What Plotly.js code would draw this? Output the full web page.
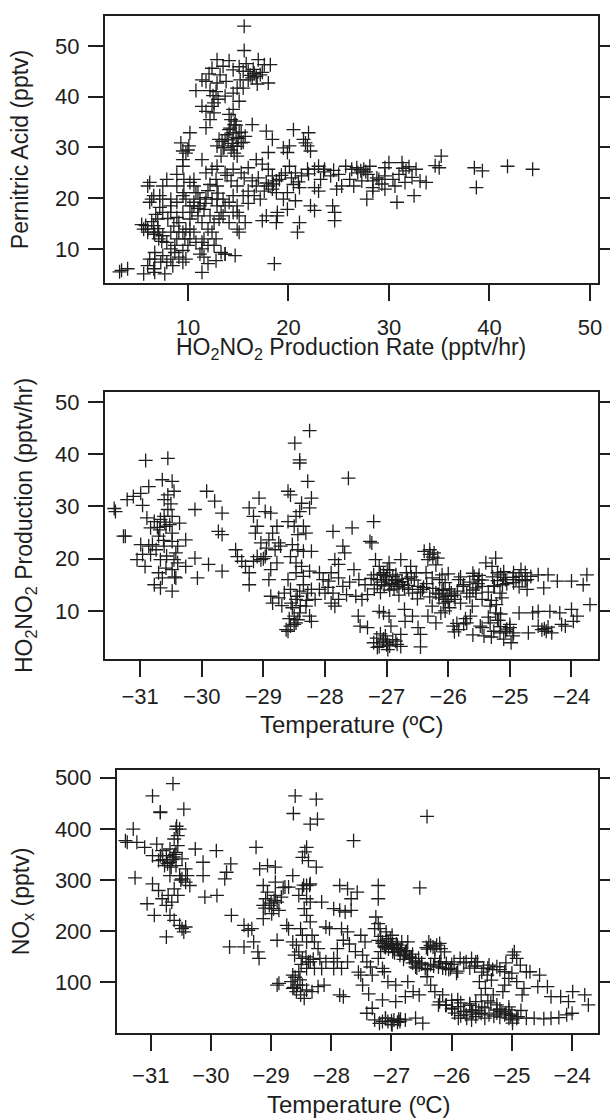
<!DOCTYPE html>
<html>
<head>
<meta charset="utf-8">
<script src="https://cdn.plot.ly/plotly-3.0.1.min.js"></script>
<style>html,body{margin:0;padding:0;background:#fff;}#chart{width:610px;height:1118px;}</style>
</head>
<body>
<div id="chart"></div>
<script>
// ---------- Panel 1: Pernitric acid vs HO2NO2 production rate ----------
const p1Rate = [
15.6,15.6,12.9,14.1,13.5,12.4,14.5,15.1,15.5,16.0,
16.6,17.0,17.6,18.2,16.4,16.0,16.8,17.2,18.0,15.2,
14.9,15.5,15.1,14.5,13.7,12.9,11.8,11.4,10.8,12.2,
12.8,12.6,12.4,11.4,11.8,12.6,12.2,11.8,14.5,14.1,
16.2,16.5,17.4,13.2,12.1,13.8,16.9,15.8,12.5,13.0,
14.5,14.2,14.8,14.0,15.0,14.4,13.6,15.3,14.7,13.9,
14.9,13.4,15.5,14.3,14.6,16.4,15.1,13.7,13.5,13.3,
14.5,14.9,14.3,15.3,15.7,14.1,14.6,12.9,13.1,14.8,
17.8,18.4,18.0,20.5,19.9,19.5,20.1,21.5,21.7,21.9,
22.2,22.0,10.2,9.3,10.1,9.5,9.8,9.5,9.5,10.0,
12.9,13.7,14.5,15.3,16.0,16.8,17.4,18.0,18.4,18.8,
18.0,18.4,18.8,17.6,16.8,16.4,16.0,15.5,16.6,17.2,
19.1,19.7,20.1,20.7,21.3,21.9,22.6,23.0,23.6,23.2,
22.6,23.0,24.2,25.0,25.3,24.8,25.7,26.3,26.9,27.5,
27.9,27.3,26.5,26.1,28.4,29.0,29.6,30.4,31.0,31.7,
32.3,33.1,31.6,30.6,28.4,30.0,28.1,20.5,21.1,19.9,
19.5,20.7,17.0,17.8,18.5,19.3,20.3,21.0,22.0,23.5,
24.5,26.8,27.2,27.7,28.8,29.3,32.0,31.4,35.0,34.6,
35.2,38.5,39.3,38.7,41.8,44.3,30.8,32.5,33.7,32.7,
31.3,29.6,29.6,28.4,27.8,24.6,24.6,24.4,22.2,22.6,
21.1,20.9,19.9,18.9,18.8,18.9,17.8,17.4,15.7,15.1,
14.9,18.6,11.4,13.7,14.7,12.8,12.0,11.6,
11.8,12.4,12.8,12.2,14.3,14.9,14.5,14.1,14.9,14.5,
12.9,12.9,13.3,13.1,12.6,14.1,14.9,15.1,11.4,10.8,
11.2,10.6,10.4,11.0,10.2,11.4,11.2,12.0,11.4,12.6,
13.3,13.7,10.2,10.6,11.0,10.6,11.2,11.8,11.6,12.2,
11.4,12.0,12.4,12.8,11.6,10.6,13.5,13.7,13.5,12.9,
12.4,13.9,15.6,16.0,13.0,12.0,11.0,11.7,
3.4,4.0,5.6,6.6,7.7,6.7,7.3,6.2,8.3,9.1,
9.8,8.7,8.9,9.5,9.8,10.2,8.9,8.3,9.1,6.0,
6.6,7.1,5.8,7.0,6.2,6.4,7.2,6.2,7.9,8.9,
8.3,7.5,9.6,9.8,5.6,6.0,6.6,6.7,7.5,8.3,
7.1,7.9,8.7,8.3,6.7,7.5,7.9,8.5,9.5,6.0,
6.7,6.0,6.6,7.2,7.5,8.3,8.9,9.5,9.5,10.2,
8.9,9.6,10.6,7.5,9.1,9.7,10.2,10.8,10.0,9.5,
3.2,5.4,6.4,7.0,8.0,8.6,6.8,7.4
];
const p1Acid = [
53.9,49.1,47.3,47.1,46.0,45.6,45.3,45.9,45.0,45.0,
44.6,47.3,46.3,46.3,43.7,43.3,44.0,44.3,42.7,43.3,
41.7,41.7,39.1,40.7,40.1,42.7,43.0,43.3,41.2,41.2,
41.0,38.8,38.1,38.1,37.1,36.8,35.5,33.9,37.5,36.5,
44.2,45.4,44.8,44.3,44.5,43.0,42.5,46.5,40.2,39.5,
32.9,33.8,34.4,31.5,31.8,30.8,30.0,33.0,35.2,32.5,
30.2,31.2,31.0,29.5,28.9,34.5,32.9,31.6,29.9,28.3,
30.3,28.3,35.5,30.9,32.2,33.5,34.5,30.3,31.6,32.0,
33.2,31.6,29.0,33.5,29.0,29.9,30.3,31.6,30.9,30.3,
29.3,32.9,32.9,30.9,30.3,29.3,28.9,27.6,26.3,29.5,
26.3,25.0,25.7,25.0,26.0,27.6,26.7,25.7,24.4,23.4,
22.4,21.8,21.1,21.4,22.4,23.4,21.4,20.5,20.5,19.8,
23.7,25.0,26.3,25.0,24.4,25.7,25.7,26.3,25.7,23.7,
22.1,21.4,24.4,24.7,22.4,21.8,26.3,25.7,25.0,25.7,
24.7,23.4,22.4,23.7,23.4,23.7,24.4,23.7,24.7,25.4,
24.1,23.4,23.1,22.4,22.1,27.0,26.3,22.7,22.1,21.1,
19.8,19.5,24.0,23.0,22.8,24.5,24.0,23.2,24.8,25.2,
25.5,26.0,25.4,25.2,24.0,22.8,26.2,25.9,26.0,26.4,
28.3,26.0,25.4,22.1,26.3,25.7,19.2,20.5,23.1,25.7,
27.0,26.0,21.8,21.4,19.8,17.2,15.6,18.5,18.5,17.6,
15.2,13.3,17.8,17.2,15.2,16.5,16.5,15.6,15.2,13.3,
17.2,7.1,5.4,9.0,8.7,7.7,7.1,8.4,
25.0,25.7,23.7,22.7,23.4,22.4,20.5,19.2,18.5,17.2,
19.8,18.5,17.2,15.9,15.2,15.2,13.9,16.5,27.6,21.1,
19.8,18.5,17.2,16.5,15.9,10.0,9.0,10.7,11.3,10.7,
9.3,9.0,23.1,22.4,21.1,19.2,18.5,20.1,17.8,16.5,
15.2,13.9,13.3,12.0,12.0,13.3,16.5,18.5,19.8,22.4,
19.8,24.5,24.0,19.0,21.0,21.5,18.0,19.0,
5.8,6.1,5.1,6.1,5.1,8.0,7.4,8.0,8.0,8.4,
8.0,10.7,12.0,13.3,13.9,13.9,16.2,17.2,15.2,13.9,
13.3,13.3,14.6,15.9,19.2,19.8,20.5,23.1,23.7,24.7,
18.5,19.8,21.1,19.8,13.9,13.3,14.6,12.9,12.6,13.3,
12.0,11.3,9.3,10.0,9.3,8.7,7.4,6.7,7.4,6.7,
5.4,22.4,20.5,18.2,17.2,19.8,19.2,20.5,17.2,18.5,
22.4,23.7,23.7,22.4,13.3,12.0,12.0,11.3,10.7,9.7,
5.5,14.8,15.4,14.0,16.0,14.5,16.8,11.5
];

// ---------- Panel 2: HO2NO2 production vs temperature ----------
const p2Temp = [
-31.42,-31.40,-31.27,-31.24,-31.21,-31.11,-30.99,-30.96,-30.86,-30.91,
-30.55,-30.64,-30.48,-30.89,-30.83,-30.77,-30.99,-30.96,-31.05,-30.92,
-30.77,-30.67,-30.48,-30.42,-30.39,-30.26,-30.26,-30.36,-30.55,-30.61,
-30.55,-30.45,-30.67,-30.61,-30.48,-30.58,-30.70,-30.80,-30.74,-30.61,
-30.48,-30.39,-30.67,-30.58,-30.48,-30.42,-30.86,-30.83,-30.70,-30.64,
-30.48,-30.45,-30.60,-30.52,-30.72,-30.50,-30.62,-30.44,-30.68,-30.57,
-30.11,-30.11,-30.07,-29.92,-29.79,-29.67,-29.73,-29.67,-29.89,-29.67,
-29.45,-29.42,-29.35,-29.29,-29.23,-29.23,-29.07,-29.23,-29.16,-28.97,
-28.88,-29.10,-29.13,-29.04,-28.91,-28.85,-28.78,-28.75,-28.81,-29.10,
-29.04,-28.97,-29.16,-28.88,-28.91,-28.78,-28.72,-28.88,-28.85,-28.75,
-28.66,-28.63,-28.56,-28.50,-28.47,-28.60,-28.44,-28.95,-29.00,-28.70,
-28.60,-28.56,-28.49,-28.41,-28.41,-28.25,-28.28,-28.22,-28.38,-28.25,
-28.41,-28.47,-28.60,-28.50,-28.35,-28.31,-28.44,-28.53,-28.44,-28.35,
-28.22,-28.56,-28.47,-28.38,-28.47,-28.35,-28.25,-28.60,-28.56,-28.41,
-28.28,-28.22,-28.47,-28.53,-28.31,-28.41,-28.25,-28.22,-28.16,-28.09,
-28.03,-28.00,-28.09,-28.55,-28.45,-28.35,-28.50,-28.40,-28.30,-28.58,
-27.87,-27.56,-27.62,-27.71,-27.68,-27.84,-27.78,-27.90,-27.94,-27.78,
-27.71,-27.87,-27.78,-27.84,-27.90,-27.65,-27.53,-27.50,-27.40,-27.31,
-27.46,-27.43,-27.31,-27.24,-27.21,-27.27,-27.60,-27.95,-27.35,-27.45,
-27.18,-27.12,-27.05,-26.99,-26.96,-26.90,-26.83,-27.02,-27.15,-27.21,
-26.96,-26.83,-26.71,-26.77,-26.68,-26.64,-26.58,-26.49,-26.42,-26.52,
-26.61,-27.12,-27.05,-26.96,-26.93,-27.02,-26.90,-27.21,-27.12,-26.99,
-26.83,-26.77,-26.77,-26.71,-26.58,-26.49,-26.45,-26.45,-26.33,-26.20,
-26.26,-27.08,-27.00,-26.92,-26.86,-27.10,-27.04,-26.95,-26.88,-26.80,
-26.74,-26.66,-27.06,-27.16,-27.00,-26.70,
-26.39,-26.30,-26.23,-26.17,-26.33,-26.36,-26.26,-26.14,-26.08,-26.20,
-26.02,-25.95,-26.08,-25.98,-25.89,-25.83,-25.76,-25.70,-25.92,-25.83,
-25.70,-25.64,-25.61,-25.58,-25.51,-25.45,-25.55,-25.45,-25.48,-25.42,
-26.30,-26.25,-26.10,-26.05,-26.00,-25.90,-26.40,-26.15,-25.98,-26.05,
-25.80,-25.65,-25.60,-25.52,-25.72,-25.86,-26.12,-26.20,
-25.39,-25.23,-25.29,-25.20,-25.26,-25.16,-25.32,-25.23,-25.32,-25.26,
-25.16,-25.07,-24.94,-24.98,-25.07,-25.13,-24.94,-24.85,-24.75,-24.66,
-24.82,-24.72,-24.94,-24.72,-25.20,-25.10,-25.30,-25.18,-25.05,-24.90,
-25.22,-25.12,-24.80,-25.00,-25.28,-25.15,
-24.54,-24.38,-24.45,-24.23,-24.00,-23.81,-23.75,-23.70,-24.85,-24.63,
-24.54,-24.35,-24.19,-24.00,-24.16,-23.97,-23.91,-24.41,-24.32,-24.48,
-24.54,-24.70,-24.10,-24.44,-24.38,
-27.25,-27.15,-27.05,-26.95,-26.85,-26.75,-26.65,-26.55,-26.45,-26.35,
-26.25,-26.15,-26.05,-25.95,-25.85,-25.75,-25.65,-25.55,-25.45,-25.35,
-25.25,-25.15,-25.05,-24.95,-24.85,-24.75,-27.10,-26.60,-26.10,-25.60,
-25.10,-26.30,-26.00,-25.50,-26.80,-27.20,-26.50,-25.80,
-27.15,-27.05,-26.95,-26.85,-27.10,-26.98,-25.90,-25.75,-25.60,-25.45,
-25.30,-25.20,-25.10,-25.00,-24.95,-25.35,-25.15
];
const p2Prod = [
29.6,29.0,24.3,24.3,31.3,31.9,32.5,30.2,33.8,38.8,
39.2,35.1,34.8,27.8,25.9,27.1,22.7,20.8,19.8,18.5,
15.0,14.4,13.8,16.3,19.2,18.5,23.6,26.8,29.4,31.3,
32.2,32.9,27.5,28.1,28.1,26.2,24.3,22.7,21.7,22.4,
23.3,22.4,19.8,18.2,17.9,21.1,22.4,20.8,17.3,16.3,
24.9,19.8,27.0,26.5,26.0,30.5,23.5,16.5,25.5,20.5,
29.4,20.1,16.3,32.9,31.0,28.7,25.2,24.6,18.9,17.6,
21.7,20.4,19.5,18.5,15.0,17.3,31.6,29.7,28.1,29.0,
28.7,26.2,24.9,23.0,23.6,24.9,26.2,23.0,21.7,20.4,
19.8,20.4,19.5,17.9,16.0,19.2,22.4,12.8,11.5,12.5,
13.4,6.4,7.1,7.4,7.7,6.1,8.3,22.0,20.0,11.0,
32.9,32.2,42.1,38.9,38.3,44.5,34.8,31.6,30.6,29.7,
29.0,28.1,27.1,26.2,26.2,24.9,24.6,22.7,21.7,21.4,
21.4,20.4,19.2,18.5,17.3,16.6,17.6,16.0,14.1,13.8,
13.4,14.1,12.2,10.6,10.9,9.6,9.0,8.0,12.2,17.3,
16.0,13.4,14.1,11.5,12.8,15.0,9.0,11.0,12.0,8.5,
25.2,25.9,35.4,22.4,21.1,19.8,18.9,17.3,15.7,16.3,
14.7,13.4,12.2,10.9,11.5,13.1,17.9,12.8,12.2,13.1,
9.0,7.1,6.8,23.0,27.1,23.3,15.5,14.5,15.0,16.0,
19.8,18.5,17.3,17.9,19.2,16.6,16.0,16.0,16.0,16.9,
15.0,14.7,14.4,19.8,17.3,14.1,13.4,14.7,14.1,17.3,
18.5,9.9,9.6,9.0,7.1,5.2,4.5,3.9,3.2,3.9,
3.6,3.2,5.5,10.3,9.0,6.8,5.5,3.1,9.0,7.7,
10.9,15.5,16.5,15.2,15.8,17.0,14.8,17.8,14.2,15.4,
15.0,16.2,4.2,4.8,3.5,8.0,
21.4,21.7,21.1,20.1,19.8,17.3,16.3,16.0,14.1,13.4,
12.8,13.4,11.5,10.6,12.2,16.0,14.7,13.4,7.1,6.4,
7.7,9.0,10.9,16.6,16.0,14.7,13.4,12.2,7.1,5.2,
20.8,20.3,13.9,12.2,11.8,13.0,14.5,12.5,14.2,10.0,
11.5,15.5,14.0,15.2,8.5,7.6,9.6,18.8,
19.2,20.1,18.5,17.3,14.7,13.4,10.9,9.6,7.7,6.1,
5.8,6.1,5.8,3.9,16.0,12.5,17.3,16.6,17.3,16.6,
17.9,16.0,15.4,14.1,15.8,16.4,12.0,8.2,6.5,16.0,
11.2,15.0,15.8,6.8,16.5,7.0,
16.9,16.9,14.4,15.7,15.7,15.0,16.9,11.2,9.6,9.6,
9.9,9.9,9.6,10.3,7.4,8.0,9.0,6.1,5.8,6.4,
7.1,5.8,7.1,6.6,6.9,
16.2,15.0,16.8,14.0,16.9,15.6,14.9,15.9,13.6,15.2,
14.3,13.2,15.4,12.9,13.8,15.0,12.7,14.4,15.9,13.6,
14.8,16.9,15.2,16.4,14.6,15.8,13.5,16.5,16.9,17.2,
17.5,12.7,17.1,16.8,13.0,14.2,12.3,16.5,
3.0,4.6,3.3,4.2,5.6,2.6,6.0,7.5,5.4,6.8,
5.0,8.2,4.6,7.4,5.2,8.8,9.4
];

// ---------- Panel 3: NOx vs temperature ----------
const p3Temp = [
-31.42,-31.39,-31.29,-31.23,-31.10,-30.97,-31.26,-30.90,-30.84,-30.97,
-30.84,-30.63,-30.45,-31.06,-30.94,-30.74,-30.87,-30.81,-30.74,-30.68,
-30.61,-30.52,-30.48,-30.42,-30.45,-30.58,-30.55,-30.61,-30.68,-30.58,
-30.48,-30.42,-30.39,-30.42,-30.35,-30.48,-30.61,-30.55,-30.65,-30.74,
-30.68,-30.77,-30.58,-30.52,-30.87,-30.97,-30.81,-30.55,-30.68,-30.52,
-30.71,-30.64,-30.60,-30.72,-30.80,-30.66,-30.50,-30.84,-30.57,-30.62,
-30.26,-30.13,-30.13,-30.10,-29.90,-29.91,-29.77,-29.67,-29.74,-29.66,
-29.69,-29.45,-29.45,-29.38,-29.32,-29.29,-29.22,-29.20,-29.25,
-29.19,-29.06,-28.93,-29.13,-29.06,-29.09,-29.13,-29.03,-28.96,-28.90,
-28.87,-28.99,-29.13,-28.93,-28.77,-28.71,-28.64,-28.93,-28.83,-28.90,
-28.90,-28.87,-28.74,-28.71,-28.64,-28.61,-29.00,-29.10,-28.95,-28.80,
-28.60,-28.63,-28.25,-28.23,-28.35,-28.41,-28.48,-28.38,-28.25,-28.41,
-28.35,-28.48,-28.54,-28.41,-28.35,-28.45,-28.41,-28.35,-28.51,-28.48,
-28.41,-28.32,-28.28,-28.22,-28.58,-28.54,-28.48,-28.35,-28.28,-28.41,
-28.54,-28.64,-28.67,-28.64,-28.58,-28.51,-28.45,-28.48,-28.41,-28.32,
-28.22,-28.12,-28.19,-28.09,-28.16,-28.03,-28.09,-28.16,-27.96,-28.44,
-28.60,-28.56,-28.50,-28.42,-28.38,-28.30,-28.62,-28.52,-28.46,-28.36,
-27.86,-27.77,-27.67,-27.86,-27.73,-27.67,-27.57,-27.63,-27.83,-27.73,
-27.80,-27.90,-27.96,-27.90,-27.83,-27.73,-27.96,-27.86,-27.80,-27.51,
-27.44,-27.48,-27.41,-27.51,-27.48,-27.38,-27.28,-27.22,-27.22,-27.26,
-27.22,-27.60,-27.35,-27.70,-27.55,
-27.15,-27.09,-27.02,-26.96,-26.90,-26.86,-26.77,-26.67,-26.60,-26.54,
-26.44,-27.19,-27.09,-26.99,-26.83,-26.73,-27.22,-27.15,-27.12,-27.32,
-27.06,-26.93,-26.73,-26.64,-26.54,-26.77,-26.93,-27.15,-27.32,-27.41,
-27.28,-27.15,-27.06,-26.96,-26.86,-26.77,-26.60,-26.48,-26.99,-26.53,
-26.41,-27.12,-27.05,-26.98,-26.92,-26.84,-26.70,-27.18,-27.00,-26.88,
-27.10,-26.80,-26.65,-26.58,
-26.38,-26.31,-26.25,-26.18,-26.12,-26.28,-26.18,-26.09,-26.02,-25.96,
-25.86,-25.76,-25.67,-25.57,-25.47,-25.38,-25.25,-25.12,-24.99,-24.96,
-24.92,-24.86,-24.76,-24.70,-24.54,-24.57,-24.41,-24.35,-24.19,-23.99,
-23.79,-23.73,-26.22,-26.15,-26.05,-26.35,-26.40,-25.92,-25.62,-25.32,
-26.41,-26.35,-26.28,-26.15,-26.22,-26.09,-25.99,-25.89,-25.80,-25.89,
-25.76,-25.67,-25.60,-25.51,-25.44,-25.54,-25.41,-25.34,-25.31,-25.25,
-25.18,-25.12,-25.05,-24.99,-24.92,-25.05,-25.15,-25.12,-25.05,-25.38,
-25.51,-25.60,-25.67,-24.99,-24.76,-24.63,-24.47,-24.35,-24.22,-24.09,
-24.00,-24.06,-24.80,-24.92,-24.83,-25.95,-25.70,-25.45,-25.25,-25.85,
-25.55,-25.35,-25.20,-25.02,-26.00,-25.75,
-27.22,-27.15,-27.10,-27.05,-27.00,-26.95,-26.90,-26.85,-26.80,-26.75,
-26.70,-26.65,-26.60,-26.55,-26.50,-27.18,-27.08,-26.98,-26.88,-26.78,
-26.60,-26.50,-26.40,-26.30,-26.20,-26.10,-26.00,-25.90,-25.80,-25.70,
-26.35,-26.28,-26.20,-26.42,-25.60,-25.40,-25.20,-25.00,-25.50,-25.10,
-26.20,-26.10,-26.00,-25.90,-25.80,-25.70,-25.60,-25.50,-25.40,-25.30,
-25.20,-25.10,-25.00,-24.90,-25.85,-25.65,-25.45,-25.25,-25.05,-24.85,
-27.20,-27.10,-27.00,-26.90,-26.85
];
const p3NOx = [
376.8,373.6,399.5,373.6,363.9,292.5,304.2,370.3,347.6,464.3,
431.9,488.3,438.4,253.6,230.9,188.8,279.5,263.4,250.4,230.9,
221.2,211.5,205.0,208.2,198.5,399.5,386.6,380.1,360.6,354.1,
341.2,321.7,308.7,295.8,289.3,302.3,282.8,269.8,256.9,347.6,
334.7,328.2,328.2,399.5,337.9,347.6,357.4,367.1,308.7,308.7,
269.8,340.0,350.0,332.0,340.0,325.0,300.0,433.0,405.0,345.0,
360.6,334.7,308.7,266.6,269.8,357.4,302.3,331.4,315.2,230.9,
169.3,169.3,211.5,201.8,205.0,179.1,159.6,146.7,363.9,
321.7,328.2,325.0,289.3,276.3,263.4,250.4,250.4,243.9,256.9,
240.7,234.2,224.5,295.8,286.1,286.1,308.7,269.8,266.6,182.3,
94.8,98.1,211.5,205.0,179.1,153.1,255.0,245.0,260.0,285.0,
464.3,429.9,457.9,418.9,409.2,363.9,344.4,337.9,325.0,289.3,
292.5,282.8,269.8,263.4,256.9,243.9,230.9,218.0,205.0,192.1,
179.1,192.1,179.1,166.1,172.6,159.6,146.7,140.2,127.2,127.2,
120.7,114.3,101.3,88.3,81.8,75.4,68.9,94.8,85.1,81.8,
91.6,94.8,146.7,140.2,127.2,205.0,208.2,256.9,243.9,355.0,
110.0,95.0,135.0,150.0,140.0,145.0,90.0,105.0,290.0,290.0,
240.7,237.5,240.7,289.3,282.8,263.4,276.3,376.8,205.0,198.5,
182.3,166.1,146.7,140.2,127.2,140.2,127.2,75.4,72.1,192.1,
179.1,153.1,140.2,114.3,94.8,77.5,205.0,289.3,263.4,227.7,
214.7,160.0,130.0,175.0,120.0,
179.1,172.6,185.6,166.1,172.6,153.1,159.6,146.7,140.2,133.7,
127.2,205.0,198.5,192.1,179.1,179.1,146.7,127.2,120.7,114.3,
101.3,94.8,101.3,81.8,75.4,72.1,62.4,65.6,49.4,39.7,
26.7,23.5,23.5,26.7,23.5,26.7,30.0,20.3,17.0,284.7,
424.2,170.0,165.0,160.0,175.0,165.0,150.0,160.0,25.0,28.0,
30.0,145.0,138.0,128.0,
179.1,169.3,172.6,166.1,159.6,146.7,140.2,136.9,127.2,140.2,
146.7,140.2,146.7,140.2,127.2,133.7,130.5,120.7,153.1,159.6,
146.7,133.7,120.7,120.7,114.3,91.6,91.6,72.1,72.1,81.8,
75.4,56.0,130.0,128.0,125.0,135.0,165.0,118.0,132.0,125.0,
111.0,94.8,81.8,75.4,56.0,56.0,49.4,52.7,43.0,30.0,
36.5,46.2,62.4,75.4,88.3,101.3,114.3,104.5,75.4,56.0,
43.0,36.5,30.0,26.7,30.0,46.2,81.8,94.8,107.8,36.5,
39.7,33.2,26.7,20.3,30.0,30.0,28.7,30.0,31.3,36.5,
39.7,62.4,88.3,101.3,75.4,40.0,55.0,50.0,40.0,60.0,
45.0,60.0,32.0,35.0,65.0,30.0,
182,176,168,180,172,158,168,160,152,162,
148,155,142,147,136,190,185,175,164,155,
130,138,125,132,140,127,135,122,138,128,
172,165,176,168,140,128,125,118,120,138,
62,55,48,66,44,58,38,52,64,34,
48,40,38,33,35,42,30,46,52,45,
20,30,18,22,28
];

// Tick values
const p1RateTicks = [10, 20, 30, 40, 50];
const p1AcidTicks = [10, 20, 30, 40, 50];
const tempTicks = [-31, -30, -29, -28, -27, -26, -25, -24];
const p2ProdTicks = [10, 20, 30, 40, 50];
const p3NOxTicks = [100, 200, 300, 400, 500];

// Axis title texts
const p1XTitle = 'HO<sub>2</sub>NO<sub>2</sub> Production Rate (pptv/hr)';
const p1YTitle = 'Pernitric Acid (pptv)';
const p2YTitle = 'HO<sub>2</sub>NO<sub>2</sub> Production (pptv/hr)';
const p3YTitle = 'NO<sub>x</sub> (pptv)';
const tempTitle = 'Temperature (ºC)';

const ink = '#1e1e1e';
const FONT = 'Liberation Sans, Arial, Helvetica, sans-serif';
const marker = {symbol: 'cross-thin-open', size: 10, color: ink, line: {width: 1.3, color: ink}};

function tr(x, y, xa, ya) {
  return {x: x, y: y, xaxis: xa, yaxis: ya, type: 'scatter', mode: 'markers',
          marker: marker, hoverinfo: 'x+y', showlegend: false};
}

function xAx(domain, range, ticks, anchor, labelGap) {
  return {domain: domain, range: range, anchor: anchor, tickvals: ticks,
    ticks: 'outside', ticklen: 16, tickwidth: 2, tickcolor: ink,
    showline: true, linewidth: 2, linecolor: ink, mirror: true,
    showgrid: false, zeroline: false, automargin: false,
    ticklabelstandoff: labelGap,
    tickfont: {family: FONT, size: 22, color: ink}};
}
function yAx(domain, range, ticks, title, anchor, standoff) {
  return {domain: domain, range: range, anchor: anchor, tickvals: ticks,
    ticks: 'outside', ticklen: 15, tickwidth: 2, tickcolor: ink,
    showline: true, linewidth: 2, linecolor: ink, mirror: 'allticks',
    showgrid: false, zeroline: false, automargin: false,
    ticklabelstandoff: 4,
    tickfont: {family: FONT, size: 22, color: ink},
    title: {text: title, font: {family: FONT, size: 23, color: ink}, standoff: standoff}};
}

function xTitle(text, xc, yc, size) {
  return {text: text, xref: 'paper', yref: 'paper', x: xc, y: yc,
          xanchor: 'center', yanchor: 'middle', showarrow: false,
          font: {family: FONT, size: size, color: ink}};
}

const data = [
  tr(p1Rate, p1Acid, 'x', 'y'),
  tr(p2Temp, p2Prod, 'x2', 'y2'),
  tr(p3Temp, p3NOx, 'x3', 'y3')
];

const layout = {
  width: 610, height: 1118,
  margin: {l: 0, r: 0, t: 0, b: 0},
  paper_bgcolor: '#fff', plot_bgcolor: '#fff',
  font: {family: FONT, color: ink},
  showlegend: false,
  xaxis:  xAx([0.1721, 0.9803], [1.75, 50.8], p1RateTicks, 'y', 8),
  yaxis:  yAx([0.7469, 0.9857], [3.3, 55.9], p1AcidTicks, p1YTitle, 'x', 20),
  xaxis2: xAx([0.1721, 0.9803], [-31.57, -23.57], tempTicks, 'y2', 1),
  yaxis2: yAx([0.4106, 0.6494], [0.8, 51.9], p2ProdTicks, p2YTitle, 'x2', 16),
  xaxis3: xAx([0.1918, 0.9803], [-31.56, -23.57], tempTicks, 'y3', 6),
  yaxis3: yAx([0.0760, 0.3113], [1, 515], p3NOxTicks, p3YTitle, 'x3', 19),
  annotations: [
    xTitle(p1XTitle, 0.5762, 1 - 348.5 / 1118, 23),
    xTitle(tempTitle, 0.5762, 1 - 724 / 1118, 24),
    xTitle(tempTitle, 0.5885, 1 - 1104.5 / 1118, 24)
  ]
};

Plotly.newPlot('chart', data, layout, {displayModeBar: false, staticPlot: true});
</script>
</body>
</html>
